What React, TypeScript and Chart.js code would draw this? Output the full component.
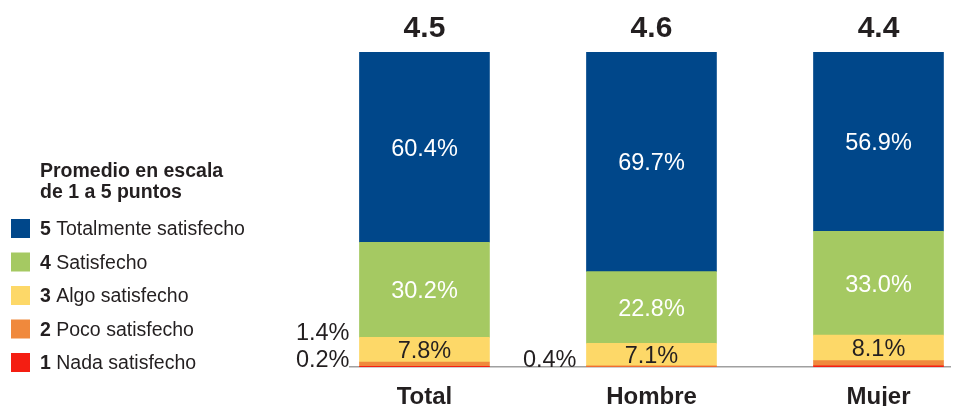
import React, { useEffect, useRef } from "react";
import { Chart, registerables } from "chart.js";

Chart.register(...registerables);

const categories = ["Total", "Hombre", "Mujer"];
const averages = ["4.5", "4.6", "4.4"];
const totalmente = [60.4, 69.7, 56.9];
const satisfecho = [30.2, 22.8, 33.0];
const algo = [7.8, 7.1, 8.1];
const poco = [1.4, 0.4, 1.6];
const nada = [0.2, 0, 0.4];
const pocoOutside = [true, true, false];
const nadaOutside = [true, false, false];
const legendTitle = ["Promedio en escala", "de 1 a 5 puntos"];
const seriesNumbers = ["1", "2", "3", "4", "5"];
const seriesNames = ["Nada satisfecho", "Poco satisfecho", "Algo satisfecho", "Satisfecho", "Totalmente satisfecho"];
const colors = ["#f41e12", "#f0893c", "#fdd868", "#a5c962", "#00478a"];

const FONT = "'Liberation Sans', Arial, Helvetica, sans-serif";
const TEXT = "#231f20";

const labelsPlugin = {
  id: "labelsPlugin",
  afterDatasetsDraw(chart: any) {
    const ctx = chart.ctx;
    ctx.save();
    const n = chart.data.datasets.length;
    // inside labels
    for (let d = 0; d < n; d++) {
      const meta = chart.getDatasetMeta(d);
      const ds = chart.data.datasets[d];
      meta.data.forEach((el: any, i: number) => {
        const v = ds.data[i].y;
        if (v >= 5) {
          ctx.font = `23.5px ${FONT}`;
          ctx.textAlign = "center";
          ctx.textBaseline = "middle";
          ctx.fillStyle = d >= 3 ? "#ffffff" : TEXT;
          ctx.fillText(v.toFixed(1) + "%", el.x, (el.y + el.base) / 2 + 2);
        }
      });
    }
    // outside labels (small segments)
    const outsideFlags = [nadaOutside, pocoOutside];
    for (let i = 0; i < categories.length; i++) {
      let k = 0;
      for (let d = 0; d < 2; d++) {
        if (!outsideFlags[d][i]) continue;
        const el = chart.getDatasetMeta(d).data[i];
        const v = chart.data.datasets[d].data[i].y;
        ctx.font = `23.5px ${FONT}`;
        ctx.textAlign = "right";
        ctx.textBaseline = "middle";
        ctx.fillStyle = TEXT;
        const left = el.x - el.width / 2;
        ctx.fillText(v.toFixed(1) + "%", left - 10, chart.chartArea.bottom - 6 - k * 27);
        k++;
      }
      // averages on top
      const top = chart.getDatasetMeta(n - 1).data[i];
      ctx.font = `bold 30px ${FONT}`;
      ctx.textAlign = "center";
      ctx.textBaseline = "middle";
      ctx.fillStyle = TEXT;
      ctx.fillText(averages[i], top.x, top.y - 23);
    }
    // legend
    ctx.textAlign = "left";
    ctx.textBaseline = "middle";
    ctx.fillStyle = TEXT;
    ctx.font = `bold 19.5px ${FONT}`;
    ctx.fillText(legendTitle[0], 40, 172);
    ctx.fillText(legendTitle[1], 40, 193);
    for (let j = 0; j < 5; j++) {
      const idx = 4 - j;
      const y = 229 + j * 33.5;
      ctx.fillStyle = colors[idx];
      ctx.fillRect(11, y - 10, 19, 19);
      ctx.fillStyle = TEXT;
      ctx.font = `bold 19.5px ${FONT}`;
      ctx.fillText(seriesNumbers[idx], 40, y + 1);
      const w = ctx.measureText(seriesNumbers[idx]).width;
      ctx.font = `19.5px ${FONT}`;
      const sp = ctx.measureText(" ").width;
      ctx.fillText(seriesNames[idx], 40 + w + sp, y + 1);
    }
    ctx.restore();
  },
};

export default function App() {
  const ref = useRef<HTMLCanvasElement>(null);
  useEffect(() => {
    document.body.style.margin = "0";
    const series = [nada, poco, algo, satisfecho, totalmente];
    const chart = new Chart(ref.current as HTMLCanvasElement, {
      type: "bar",
      data: {
        datasets: series.map((s, d) => ({
          label: seriesNames[d],
          data: s.map((v, i) => ({ x: i, y: v })),
          backgroundColor: colors[d],
          borderWidth: 0,
          barThickness: 130,
        })),
      },
      options: {
        animation: false,
        responsive: false,
        devicePixelRatio: 1,
        layout: { padding: { left: 350, right: 4, top: 52, bottom: 0 } },
        plugins: { legend: { display: false }, tooltip: { enabled: false } },
        scales: {
          x: {
            type: "linear",
            stacked: true,
            offset: false,
            min: -0.328,
            max: 2.315,
            grid: { display: false, drawTicks: false, offset: false },
            border: { display: true, color: "#a0a0a0", width: 1.5 },
            afterBuildTicks: (scale: any) => {
              scale.ticks = categories.map((_, i) => ({ value: i }));
            },
            afterFit: (scale: any) => {
              scale.height = 39;
            },
            ticks: {
              autoSkip: false,
              maxRotation: 0,
              padding: 18,
              color: TEXT,
              font: { family: FONT, size: 24, weight: "bold", lineHeight: 1.0 },
              callback: (v: any) => categories[v] ?? "",
            },
          },
          y: {
            stacked: true,
            display: false,
            min: 0,
            max: 100,
          },
        },
      },
      plugins: [labelsPlugin],
    } as any);
    return () => chart.destroy();
  }, []);
  return (
    <div style={{ width: 954, height: 406 }}>
      <canvas ref={ref} width={954} height={406} />
    </div>
  );
}
